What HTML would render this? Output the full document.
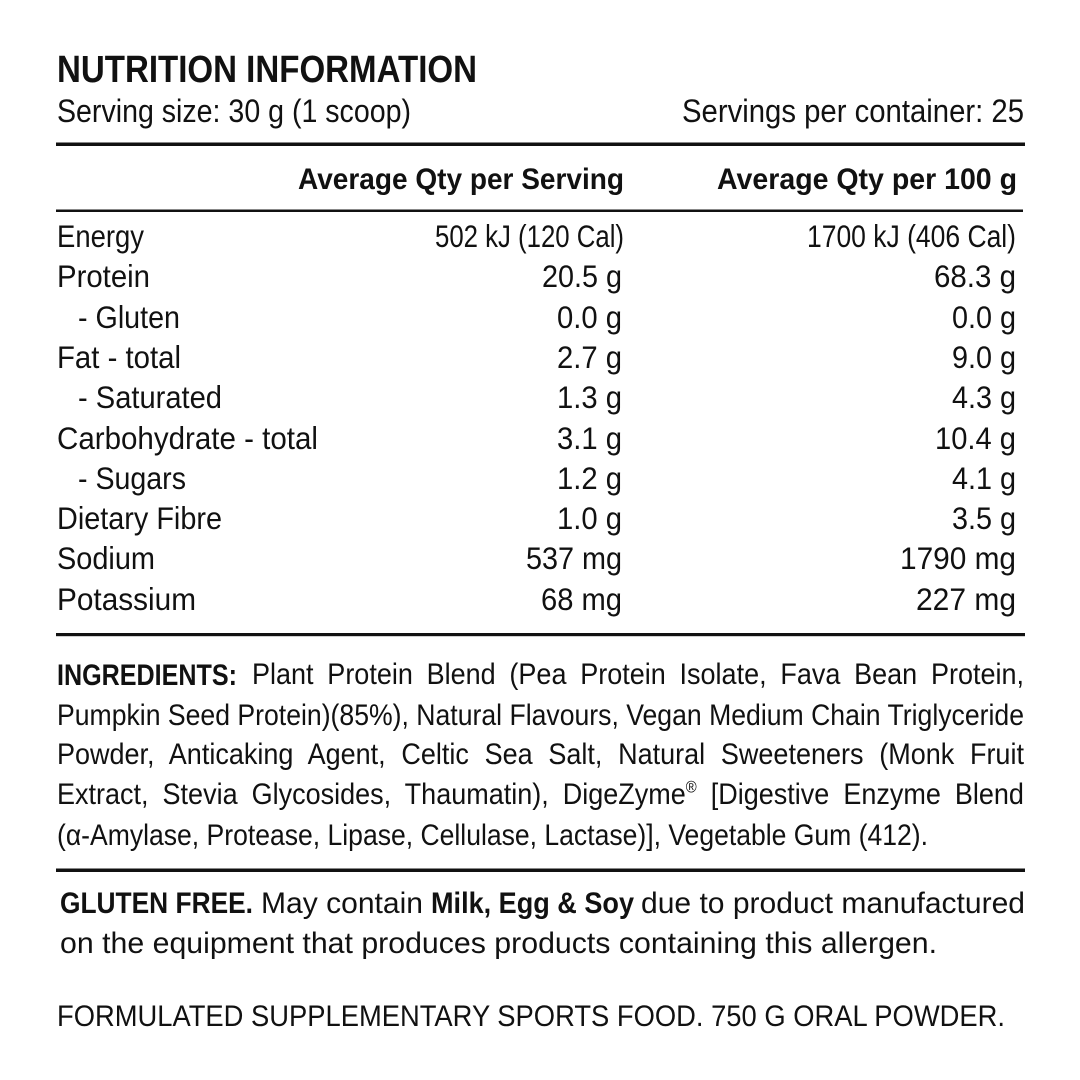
<!DOCTYPE html>
<html>
<head>
<meta charset="utf-8">
<style>
  html,body{margin:0;padding:0;background:#fff;}
  #wrap{position:relative;width:1080px;height:1080px;overflow:hidden;background:#fff;}
  svg{position:absolute;left:0;top:0;}
  svg text{font-family:"Liberation Sans",sans-serif;fill:#111;}
  .b{font-weight:bold;}
  .jl{position:absolute;font-family:"Liberation Sans",sans-serif;font-size:30px;line-height:30px;color:#111;
      text-align:justify;text-align-last:justify;transform:scaleX(0.9);transform-origin:0 0;white-space:normal;}
  .jl sup{font-size:55%;line-height:0;vertical-align:0.7em;}
</style>
</head>
<body>
<div id="wrap">
<svg width="1080" height="1080" viewBox="0 0 1080 1080" xmlns="http://www.w3.org/2000/svg">
  <!-- Title -->
  <text class="b" x="57" y="82" font-size="38" textLength="420" lengthAdjust="spacingAndGlyphs">NUTRITION INFORMATION</text>
  <text x="57" y="122" font-size="32" textLength="354" lengthAdjust="spacingAndGlyphs">Serving size: 30 g (1 scoop)</text>
  <text x="682" y="122" font-size="32" textLength="342" lengthAdjust="spacingAndGlyphs">Servings per container: 25</text>

  <rect x="56" y="142.5" width="969" height="3.5" fill="#111"/>

  <text class="b" x="298" y="189" font-size="30" textLength="326" lengthAdjust="spacingAndGlyphs">Average Qty per Serving</text>
  <text class="b" x="717" y="189" font-size="30" textLength="300" lengthAdjust="spacingAndGlyphs">Average Qty per 100 g</text>

  <rect x="56" y="209.5" width="967" height="2.5" fill="#111"/>

  <!-- Labels -->
  <g font-size="31.5">
    <text x="57" y="247" textLength="87" lengthAdjust="spacingAndGlyphs">Energy</text>
    <text x="57" y="287" textLength="93" lengthAdjust="spacingAndGlyphs">Protein</text>
    <text x="78" y="328" textLength="102" lengthAdjust="spacingAndGlyphs">- Gluten</text>
    <text x="57" y="368" textLength="124" lengthAdjust="spacingAndGlyphs">Fat - total</text>
    <text x="78" y="408" textLength="144" lengthAdjust="spacingAndGlyphs">- Saturated</text>
    <text x="57" y="449" textLength="261" lengthAdjust="spacingAndGlyphs">Carbohydrate - total</text>
    <text x="78" y="489" textLength="108" lengthAdjust="spacingAndGlyphs">- Sugars</text>
    <text x="57" y="529" textLength="165" lengthAdjust="spacingAndGlyphs">Dietary Fibre</text>
    <text x="57" y="569" textLength="98" lengthAdjust="spacingAndGlyphs">Sodium</text>
    <text x="57" y="610" textLength="139" lengthAdjust="spacingAndGlyphs">Potassium</text>

    <!-- Per serving -->
    <text x="435" y="247" textLength="189" lengthAdjust="spacingAndGlyphs">502 kJ (120 Cal)</text>
    <text x="542" y="287" textLength="80" lengthAdjust="spacingAndGlyphs">20.5 g</text>
    <text x="557" y="328" textLength="65" lengthAdjust="spacingAndGlyphs">0.0 g</text>
    <text x="557" y="368" textLength="65" lengthAdjust="spacingAndGlyphs">2.7 g</text>
    <text x="557" y="408" textLength="65" lengthAdjust="spacingAndGlyphs">1.3 g</text>
    <text x="557" y="449" textLength="65" lengthAdjust="spacingAndGlyphs">3.1 g</text>
    <text x="557" y="489" textLength="65" lengthAdjust="spacingAndGlyphs">1.2 g</text>
    <text x="557" y="529" textLength="65" lengthAdjust="spacingAndGlyphs">1.0 g</text>
    <text x="526" y="569" textLength="96" lengthAdjust="spacingAndGlyphs">537 mg</text>
    <text x="541" y="610" textLength="81" lengthAdjust="spacingAndGlyphs">68 mg</text>

    <!-- Per 100 g -->
    <text x="807" y="247" textLength="209" lengthAdjust="spacingAndGlyphs">1700 kJ (406 Cal)</text>
    <text x="934" y="287" textLength="82" lengthAdjust="spacingAndGlyphs">68.3 g</text>
    <text x="952" y="328" textLength="64" lengthAdjust="spacingAndGlyphs">0.0 g</text>
    <text x="952" y="368" textLength="64" lengthAdjust="spacingAndGlyphs">9.0 g</text>
    <text x="952" y="408" textLength="64" lengthAdjust="spacingAndGlyphs">4.3 g</text>
    <text x="935" y="449" textLength="81" lengthAdjust="spacingAndGlyphs">10.4 g</text>
    <text x="952" y="489" textLength="64" lengthAdjust="spacingAndGlyphs">4.1 g</text>
    <text x="952" y="529" textLength="64" lengthAdjust="spacingAndGlyphs">3.5 g</text>
    <text x="900" y="569" textLength="116" lengthAdjust="spacingAndGlyphs">1790 mg</text>
    <text x="916" y="610" textLength="100" lengthAdjust="spacingAndGlyphs">227 mg</text>
  </g>

  <rect x="56" y="633" width="969" height="3.2" fill="#111"/>

  <!-- Ingredients -->
  <text class="b" x="57" y="685" font-size="30" textLength="180" lengthAdjust="spacingAndGlyphs">INGREDIENTS:</text>
  <text x="57" y="725" font-size="30" textLength="967" lengthAdjust="spacingAndGlyphs">Pumpkin Seed Protein)(85%), Natural Flavours, Vegan Medium Chain Triglyceride</text>
  <text x="57" y="845" font-size="30" textLength="871" lengthAdjust="spacingAndGlyphs">(α-Amylase, Protease, Lipase, Cellulase, Lactase)], Vegetable Gum (412).</text>

  <rect x="56" y="868.5" width="969" height="3.5" fill="#111"/>

  <!-- Gluten free -->
  <text class="b" x="60" y="913" font-size="30" textLength="193" lengthAdjust="spacingAndGlyphs">GLUTEN FREE.</text>
  <text x="261" y="913" font-size="30" textLength="162" lengthAdjust="spacingAndGlyphs">May contain</text>
  <text class="b" x="431" y="913" font-size="30" textLength="203" lengthAdjust="spacingAndGlyphs">Milk, Egg &amp; Soy</text>
  <text x="641" y="913" font-size="30" textLength="384" lengthAdjust="spacingAndGlyphs">due to product manufactured</text>
  <text x="60" y="953" font-size="30" textLength="877" lengthAdjust="spacingAndGlyphs">on the equipment that produces products containing this allergen.</text>

  <text x="57" y="1026" font-size="30" textLength="948" lengthAdjust="spacingAndGlyphs">FORMULATED SUPPLEMENTARY SPORTS FOOD. 750 G ORAL POWDER.</text>
</svg>

<!-- Justified ingredient lines -->
<div class="jl" style="left:252px;top:659.6px;width:857.8px;">Plant Protein Blend (Pea Protein Isolate, Fava Bean Protein,</div>
<div class="jl" style="left:57px;top:739.6px;width:1074.4px;">Powder, Anticaking Agent, Celtic Sea Salt, Natural Sweeteners (Monk Fruit</div>
<div class="jl" style="left:57px;top:779.6px;width:1074.4px;">Extract, Stevia Glycosides, Thaumatin), DigeZyme<sup>®</sup> [Digestive Enzyme Blend</div>
</div>
</body>
</html>
